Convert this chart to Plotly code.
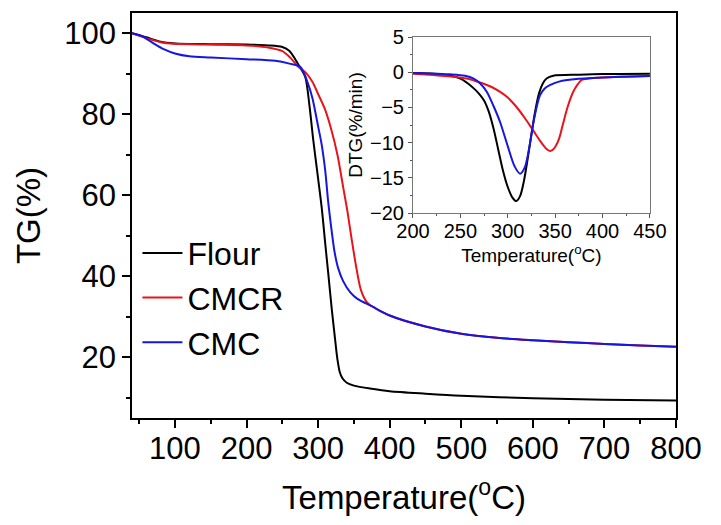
import plotly.graph_objects as go

# ---- Main TG data ----
flour_T = [40, 60, 80, 100, 150, 200, 230, 250, 260, 268, 275, 282, 288, 293, 299, 305, 310, 314, 319, 324, 327, 330, 334, 340, 350, 375, 400, 450, 500, 600, 700, 800]
flour_TG = [100, 99, 97.9, 97.5, 97.3, 97.2, 97.0, 96.6, 95.6, 93.6, 91.5, 89.3, 82, 74, 65.5, 57, 48, 41, 32, 24, 19.5, 16.5, 14.8, 13.7, 13.0, 12.2, 11.6, 11.0, 10.5, 9.9, 9.5, 9.3]

cmcr_T = [40, 60, 80, 100, 150, 200, 230, 250, 262, 272, 283, 292, 300, 309, 318, 327, 335, 341, 347, 354, 360, 368, 375, 400, 450, 500, 550, 600, 650, 700, 750, 800]
cmcr_TG = [100, 98.8, 97.8, 97.4, 97.2, 97.0, 96.5, 95.6, 93.8, 91.8, 90.2, 88, 85, 81.5, 76.5, 70, 62, 56, 49, 41.5, 36.5, 33.6, 32.6, 30.3, 27.6, 25.8, 24.8, 24.2, 23.7, 23.3, 22.9, 22.6]

cmc_T = [40, 55, 70, 85, 100, 120, 150, 200, 240, 260, 275, 285, 292, 300, 305, 310, 314, 318, 323, 328, 335, 345, 355, 375, 400, 450, 500, 550, 600, 650, 700, 750, 800]
cmc_TG = [100, 99.2, 97.5, 96, 95, 94.3, 94, 93.6, 93.2, 92.5, 91.7, 88, 84, 77, 72.5, 66, 58.5, 52.5, 46, 42, 38.8, 36.0, 34.4, 32.6, 30.3, 27.6, 25.8, 24.8, 24.2, 23.7, 23.3, 22.9, 22.6]

# ---- Inset DTG data ----
flour_dT = [200, 230, 250, 257, 265, 270, 275, 280, 285, 290, 295, 300, 305, 309, 313, 317, 321, 325, 329, 333, 337, 341, 348, 375, 400, 450]
flour_DTG = [-0.1, -0.3, -0.9, -1.5, -2.4, -3.1, -4.0, -5.6, -8.0, -11.0, -14.0, -16.3, -17.8, -18.3, -17.6, -15.5, -12.3, -8.8, -5.5, -3.0, -1.6, -0.9, -0.5, -0.35, -0.25, -0.2]

cmcr_dT = [200, 222, 240, 257, 265, 274, 283, 292, 300, 309, 318, 327, 335, 341, 345, 349, 354, 358, 363, 369, 374, 378, 385, 400, 450]
cmcr_DTG = [-0.2, -0.4, -0.6, -0.9, -1.2, -1.6, -2.1, -2.8, -3.6, -4.9, -6.5, -8.3, -9.9, -10.9, -11.2, -10.8, -9.5, -7.5, -5, -2.8, -1.7, -1.1, -0.9, -0.75, -0.55]

cmc_dT = [200, 240, 255, 264, 271, 278, 285, 292, 300, 307, 313, 318, 323, 328, 334, 339, 345, 355, 370, 400, 450]
cmc_DTG = [-0.1, -0.3, -0.5, -0.9, -1.6, -2.8, -4.8, -7.1, -10.5, -13.3, -14.4, -13.5, -10.5, -6.5, -3.3, -2.3, -1.8, -1.3, -1.0, -0.75, -0.55]

names = ["Flour", "CMCR", "CMC"]
colors = ["#000000", "#e8141c", "#1616e0"]

FONT = "Liberation Sans, Arial, sans-serif"

fig = go.Figure()
for name, c, x, y in zip(names, colors, [flour_T, cmcr_T, cmc_T], [flour_TG, cmcr_TG, cmc_TG]):
    fig.add_trace(go.Scatter(x=x, y=y, name=name, mode="lines",
                             line=dict(color=c, width=2, shape="spline", smoothing=0.8),
                             xaxis="x", yaxis="y"))
for name, c, x, y in zip(names, colors, [flour_dT, cmcr_dT, cmc_dT], [flour_DTG, cmcr_DTG, cmc_DTG]):
    fig.add_trace(go.Scatter(x=x, y=y, name=name, mode="lines", showlegend=False,
                             line=dict(color=c, width=2, shape="spline", smoothing=0.8),
                             xaxis="x2", yaxis="y2"))

axis_common = dict(showgrid=False, zeroline=False, showline=True, mirror=True,
                   linecolor="black", linewidth=1.5, ticks="outside", tickcolor="black",
                   tickwidth=1.5, automargin=False)

# page body has an 8px margin: offsets compensate so plot area sits at x 132-676, y 13-418
fig.update_layout(
    width=721, height=525,
    margin=dict(l=124, r=53, t=5, b=115),
    paper_bgcolor="white", plot_bgcolor="white",
    font=dict(family=FONT, color="black"),
    xaxis=dict(**axis_common, domain=[0, 1], range=[40, 800],
               tickvals=[100, 200, 300, 400, 500, 600, 700, 800], ticklen=8,
               ticklabelstandoff=-6,
               minor=dict(ticks="outside", ticklen=4, tickwidth=1.5, tickcolor="black",
                          tickvals=[50, 150, 250, 350, 450, 550, 650, 750]),
               tickfont=dict(size=31),
               title=dict(text="Temperature(<sup>o</sup>C)", font=dict(size=33), standoff=21)),
    yaxis=dict(**axis_common, domain=[0, 1], range=[5, 105],
               tickvals=[20, 40, 60, 80, 100], ticklen=8,
               minor=dict(ticks="outside", ticklen=4, tickwidth=1.5, tickcolor="black",
                          tickvals=[10, 30, 50, 70, 90]),
               tickfont=dict(size=31),
               title=dict(text="TG(%)", font=dict(size=33), standoff=14)),
    xaxis2=dict(showgrid=False, zeroline=False, showline=True, mirror=True,
                linecolor="#777777", linewidth=1, ticks="outside", tickcolor="#555555",
                ticklen=4, tickwidth=1, anchor="y2", domain=[0.5165, 0.952], range=[200, 450],
                tickvals=[200, 250, 300, 350, 400, 450], automargin=False,
                ticklabelstandoff=-4,
                minor=dict(ticks="outside", ticklen=2, tickcolor="#555555",
                           tickvals=[225, 275, 325, 375, 425]),
                tickfont=dict(size=20),
                title=dict(text="Temperature(<sup>o</sup>C)", font=dict(size=19), standoff=6)),
    yaxis2=dict(showgrid=False, zeroline=False, showline=True, mirror=True,
                linecolor="#777777", linewidth=1, ticks="outside", tickcolor="#555555",
                ticklen=4, tickwidth=1, anchor="x2", domain=[0.506, 0.9407], range=[-20, 5],
                tickvals=[-20, -15, -10, -5, 0, 5], automargin=False,
                minor=dict(ticks="outside", ticklen=2, tickcolor="#555555",
                           tickvals=[-17.5, -12.5, -7.5, -2.5, 2.5]),
                tickfont=dict(size=20),
                title=dict(text="DTG(%/min)", font=dict(size=19), standoff=2)),
    legend=dict(x=0.01, y=0.475, xanchor="left", yanchor="top",
                font=dict(size=32), bgcolor="rgba(0,0,0,0)", tracegroupgap=0,
                itemwidth=40),
    showlegend=True,
)

fig.write_html("out.html")
